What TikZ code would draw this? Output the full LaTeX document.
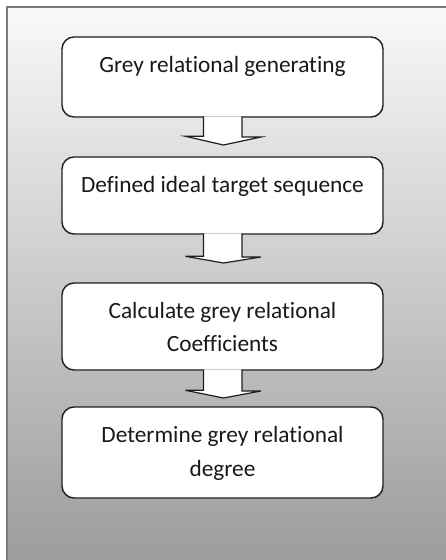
\documentclass[tikz,border=0pt]{standalone}
\usepackage{fontspec}
\setmainfont[Ligatures=NoCommon]{Carlito}
\usetikzlibrary{calc}
\definecolor{bgtop}{HTML}{F9F9F9}
\definecolor{bgbot}{HTML}{9C9C9C}
\definecolor{framegray}{HTML}{7A7A7A}
\definecolor{boxline}{HTML}{1E1E1E}
\tikzset{
  stepbox/.style={draw=boxline, line width=1.4pt, fill=white, rounded corners=12pt,
    minimum width=321pt, inner sep=0pt, outer sep=0pt},
  boxtext/.style={font=\fontsize{23.3}{33.4}\selectfont, align=center, inner sep=0pt, text=black!90},
  flowline/.style={draw=boxline, line width=1.2pt, fill=white, line join=miter}
}
\newcommand\flowarr[3]{%
  \path[flowline] ($(#1.south)+(-19,-0.7)$) -- ++(0,#2) -- ++(-18,0) -- ($(#1.south)+(1,#2+#3)$)
    -- ($(#1.south)+(38.5,#2)$) -- ($(#1.south)+(19.5,#2)$) -- ($(#1.south)+(19.5,-0.7)$);
}
\begin{document}
\begin{tikzpicture}[x=1pt,y=-1pt]
\useasboundingbox (0,0) rectangle (446,560);
\shade[top color=bgtop, bottom color=bgbot] (6.5,6.5) rectangle (446,560);
\draw[framegray, line width=2pt] (6.5,560) -- (6.5,6.5) -- (446,6.5);
\node[stepbox, minimum height=80pt] (b1) at (222.5,77) {};
\node[stepbox, minimum height=77pt] (b2) at (222.5,195.5) {};
\node[stepbox, minimum height=87pt] (b3) at (222.5,326.5) {};
\node[stepbox, minimum height=91pt] (b4) at (222.5,452.5) {};
\node[boxtext, anchor=base] (t1) at (222.5,72.5) {Grey relational generating};
\node[boxtext, anchor=base] (t2) at (222.5,192) {Defined ideal target sequence};
\node[boxtext, anchor=base] (t3) at (222.5,351.7) {Calculate grey relational\\Coefficients};
\node[boxtext, anchor=base] (t4) at (222.5,476.3) {Determine grey relational\\degree};
\flowarr{b1}{20}{8}
\flowarr{b2}{23}{6}
\flowarr{b3}{21}{7}
\end{tikzpicture}
\end{document}
